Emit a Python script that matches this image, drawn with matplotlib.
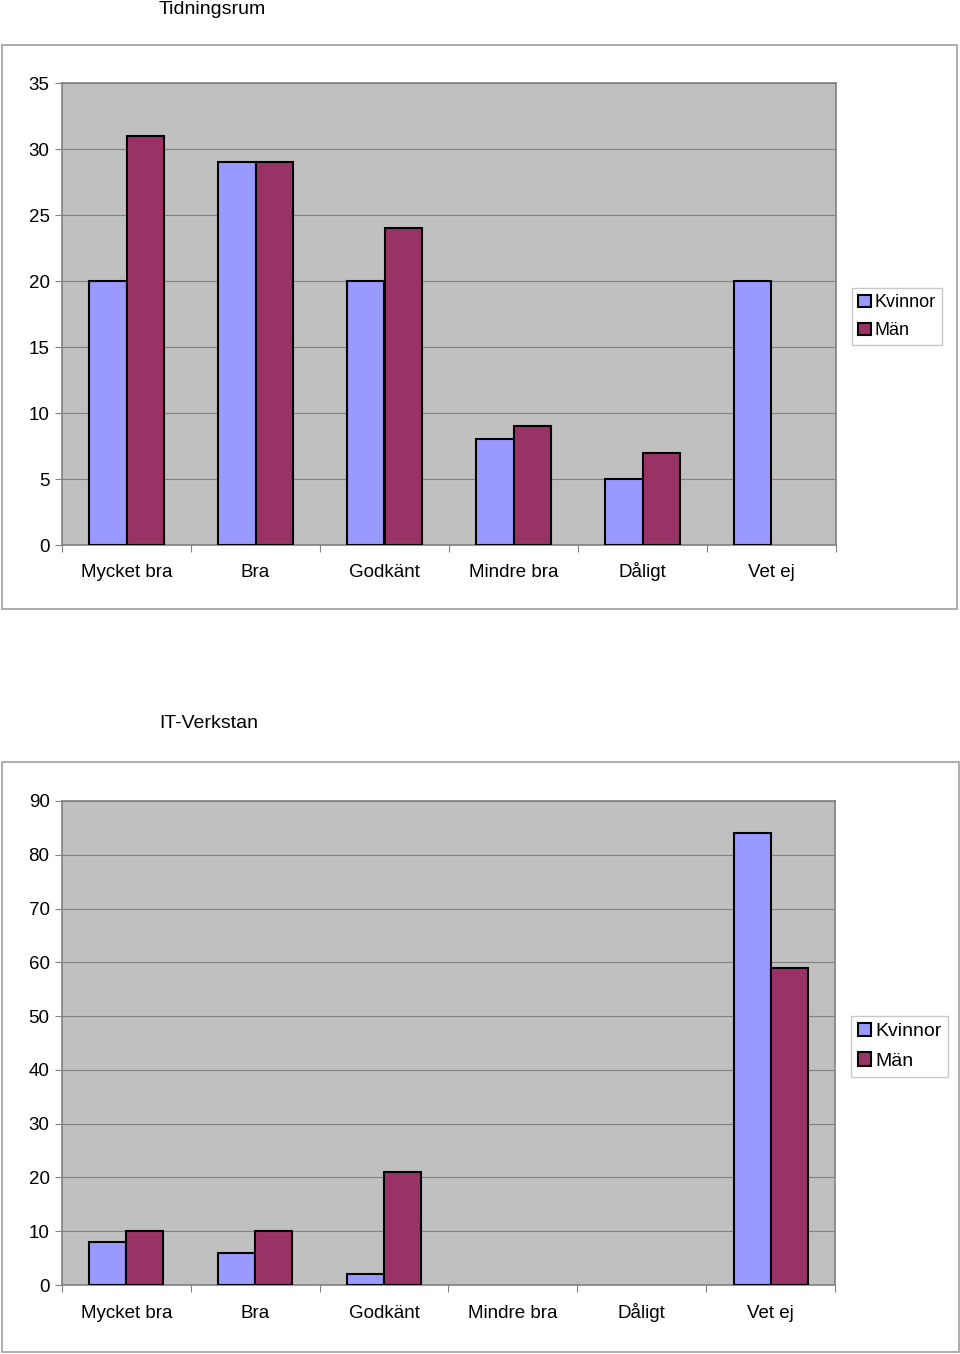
import numpy as np
import matplotlib
matplotlib.use("Agg")
import matplotlib.pyplot as plt
from matplotlib.patches import Rectangle

plt.rcParams['font.family'] = ['Liberation Sans', 'DejaVu Sans']

categories = ['Mycket bra', 'Bra', 'Godkänt', 'Mindre bra', 'Dåligt', 'Vet ej']
series_names = ['Kvinnor', 'Män']

# Tidningsrum
tid_kvinnor = [20, 29, 20, 8, 5, 20]
tid_man = [31, 29, 24, 9, 7, 0]
tid_yticks = [0, 5, 10, 15, 20, 25, 30, 35]

# IT-Verkstan
it_kvinnor = [8, 6, 2, 0, 0, 84]
it_man = [10, 10, 21, 0, 0, 59]
it_yticks = [0, 10, 20, 30, 40, 50, 60, 70, 80, 90]

C_K = '#9999FF'
C_M = '#993366'
W, H = 960, 1354

fig = plt.figure(figsize=(W / 100, H / 100), dpi=100)


def px_rect(x0, y0, x1, y1):
    # pixel box -> figure fraction [left, bottom, width, height]
    return [x0 / W, 1 - y1 / H, (x1 - x0) / W, (y1 - y0) / H]


def frame(x0, y0, x1, y1):
    l, b, w, h = px_rect(x0, y0, x1, y1)
    fig.patches.append(Rectangle((l, b), w, h, transform=fig.transFigure,
                                 fill=False, edgecolor='#a0a0a0', lw=1.2))


def chart(box, kv, mn, yticks, title, title_xy, legend_xy, legend_fs, xpad):
    ax = fig.add_axes(px_rect(*box))
    ax.set_facecolor('#C0C0C0')
    x = np.arange(len(categories))
    bw = 0.287
    b1 = ax.bar(x - bw / 2, kv, bw, color=C_K, edgecolor='black', lw=1.5,
                label=series_names[0], zorder=3)
    b2 = ax.bar(x + bw / 2, mn, bw, color=C_M, edgecolor='black', lw=1.5,
                label=series_names[1], zorder=3)
    # empty bars leave no outline
    for bars, vals in ((b1, kv), (b2, mn)):
        for p, v in zip(bars, vals):
            if v == 0:
                p.set_visible(False)
    ax.set_xlim(-0.5, len(categories) - 0.5)
    ax.set_ylim(0, yticks[-1])
    ax.set_yticks(yticks)
    ax.yaxis.grid(True, color='#808080', lw=0.8, zorder=1)
    ax.set_xticks(np.arange(len(categories) + 1) - 0.5)
    ax.set_xticklabels([])
    ax.set_xticks(x, minor=True)
    ax.set_xticklabels(categories, minor=True, fontsize=13.5, va='baseline')
    ax.tick_params(axis='x', which='minor', length=0, pad=xpad)
    ax.tick_params(axis='x', which='major', length=5, color='#808080')
    ax.tick_params(axis='y', length=5, color='#808080', labelsize=13.5, pad=4)
    for s in ax.spines.values():
        s.set_color('#808080')
        s.set_linewidth(1.2)
    fig.text(title_xy[0] / W, 1 - title_xy[1] / H, title, fontsize=14,
             ha='center', va='center')
    fig.legend(handles=[b1.patches[0], b2.patches[0]],
               labels=series_names, loc='upper left',
               bbox_to_anchor=(legend_xy[0] / W, 1 - legend_xy[1] / H),
               fontsize=legend_fs, handlelength=0.7, handleheight=0.7,
               handletextpad=0.2, borderpad=0.35, labelspacing=0.6,
               fancybox=False, framealpha=1, edgecolor='#c8c8c8',
               borderaxespad=0)
    return ax


frame(2, 45, 957, 609)
frame(2, 762, 959, 1352)
chart((62, 83, 836, 545), tid_kvinnor, tid_man, tid_yticks,
      'Tidningsrum', (212, 9), (852, 288), 13, 23)
chart((62, 801, 835, 1285), it_kvinnor, it_man, it_yticks,
      'IT-Verkstan', (209, 723), (851, 1016), 14, 24)

fig.savefig('out.png', dpi=100)
